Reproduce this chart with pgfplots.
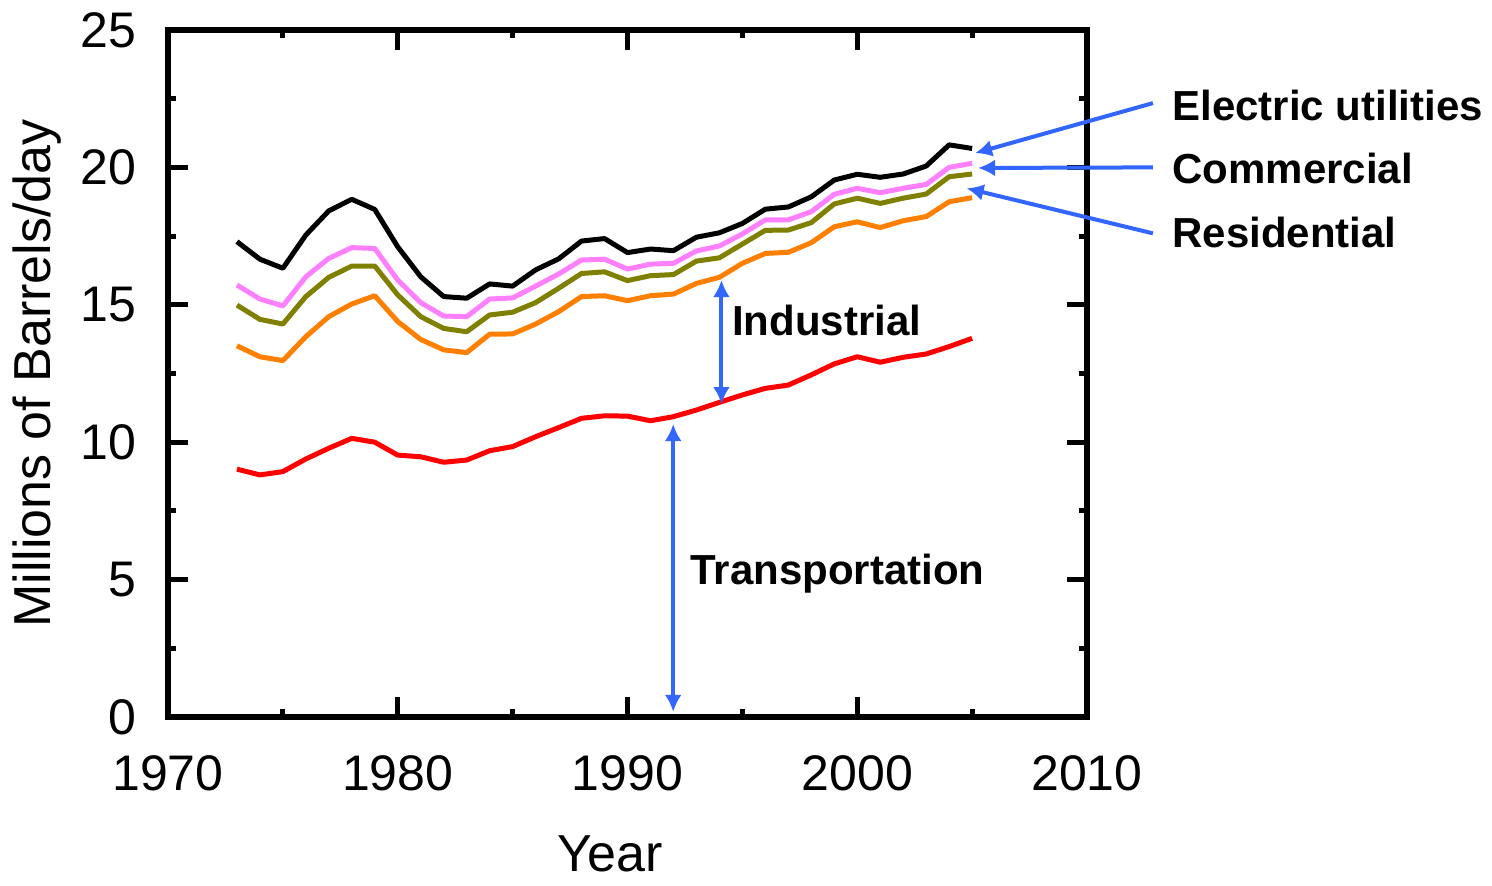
\documentclass[border=0pt]{standalone}
\usepackage{pgfplots}
\usepackage{pgfplotstable}
\pgfplotsset{compat=1.18}
\usetikzlibrary{arrows.meta}
\usepackage{fontspec}
\setmainfont{Liberation Sans}

\definecolor{elec}{RGB}{0,0,0}
\definecolor{comm}{RGB}{255,128,255}
\definecolor{resi}{RGB}{128,128,0}
\definecolor{indu}{RGB}{255,128,0}
\definecolor{tran}{RGB}{255,0,0}
\definecolor{arr}{RGB}{51,102,255}

% cumulative totals, millions of barrels/day
\pgfplotstableread{
year tran indu resi comm elec
1973 9.02 13.51 14.99 15.72 17.30
1974 8.81 13.11 14.47 15.21 16.66
1975 8.93 12.97 14.30 14.96 16.33
1976 9.39 13.84 15.30 16.02 17.54
1977 9.78 14.57 16.00 16.69 18.42
1978 10.14 15.03 16.41 17.08 18.84
1979 10.00 15.33 16.41 17.05 18.47
1980 9.53 14.39 15.36 15.90 17.11
1981 9.47 13.74 14.57 15.08 16.02
1982 9.27 13.36 14.14 14.59 15.30
1983 9.35 13.26 14.02 14.57 15.24
1984 9.69 13.93 14.63 15.21 15.76
1985 9.84 13.94 14.73 15.25 15.68
1986 10.20 14.30 15.08 15.68 16.27
1987 10.53 14.75 15.60 16.12 16.67
1988 10.87 15.30 16.14 16.63 17.32
1989 10.96 15.33 16.20 16.66 17.41
1990 10.95 15.15 15.88 16.30 16.90
1991 10.78 15.33 16.06 16.48 17.03
1992 10.93 15.39 16.10 16.51 16.97
1993 11.17 15.78 16.59 16.96 17.46
1994 11.45 16.00 16.71 17.14 17.62
1995 11.72 16.51 17.21 17.58 17.96
1996 11.96 16.87 17.71 18.09 18.48
1997 12.08 16.91 17.72 18.09 18.56
1998 12.45 17.26 17.99 18.39 18.93
1999 12.85 17.84 18.67 19.02 19.54
2000 13.11 18.02 18.88 19.24 19.75
2001 12.91 17.81 18.69 19.08 19.64
2002 13.09 18.06 18.88 19.24 19.76
2003 13.21 18.21 19.03 19.38 20.05
2004 13.48 18.75 19.66 20.00 20.82
2005 13.78 18.90 19.76 20.15 20.69
}\oil

\begin{document}
\begin{tikzpicture}
\begin{axis}[
	width=459.5pt, height=343.5pt,
	scale only axis,
	clip=false,
	xmin=1970, xmax=2010,
	ymin=0, ymax=25,
	xtick={1970,1980,...,2010},
	ytick={0,5,...,25},
	minor x tick num=1,
	minor y tick num=1,
	major tick length=10pt,
	minor tick length=4pt,
	tick style={black, line width=2.5pt},
	axis line style={line width=3.3pt},
	/pgf/number format/1000 sep={},
	/pgf/number format/assume math mode=true,
	ticklabel style={font=\fontsize{25}{30}\selectfont, inner sep=0pt},
	xticklabel style={anchor=base, yshift=-36.5pt},
	yticklabel style={anchor=east, xshift=-15.5pt},
	xlabel={Year},
	ylabel={Millions of Barrels/day},
	label style={font=\fontsize{26}{31}\selectfont, inner sep=0pt},
	xlabel style={anchor=base, at={(axis description cs:0.481,-0.225)}},
	ylabel style={anchor=center, at={(axis description cs:-0.1425,0.5)}},
	every axis plot/.append style={line width=2.5pt, line join=round},
]
\addplot[tran] table[x=year, y=tran] {\oil};
\addplot[indu] table[x=year, y=indu] {\oil};
\addplot[resi] table[x=year, y=resi] {\oil};
\addplot[comm] table[x=year, y=comm] {\oil};
\addplot[elec] table[x=year, y=elec] {\oil};

% annotations
\begin{scope}[arr, line width=2pt, >={Latex[length=8.5pt,width=8.5pt]}]
\draw[<->] (axis cs:1991.99,10.66) -- (axis cs:1991.99,0.19);
\draw[<->] (axis cs:1994.09,15.90) -- (axis cs:1994.09,11.39);
\draw[->] (axis cs:2012.87,22.34) -- (axis cs:2005.13,20.52);
\draw[->] (axis cs:2012.87,20.00) -- (axis cs:2005.26,19.98);
\draw[->] (axis cs:2012.87,17.60) -- (axis cs:2004.76,19.24);
\end{scope}
\begin{scope}[every node/.style={anchor=base west, inner sep=0pt, font=\bfseries\fontsize{21}{25}\selectfont}]
\node at (axis cs:1992.72,4.84) {Transportation};
\node at (axis cs:1994.54,13.90) {Industrial};
\node at (axis cs:2013.70,21.72) {Electric utilities};
\node at (axis cs:2013.70,19.43) {Commercial};
\node at (axis cs:2013.70,17.10) {Residential};
\end{scope}
\end{axis}
\pgfresetboundingbox
\path[use as bounding box] (-84pt,-84pt) rectangle (662pt,358.5pt);
\end{tikzpicture}
\end{document}
